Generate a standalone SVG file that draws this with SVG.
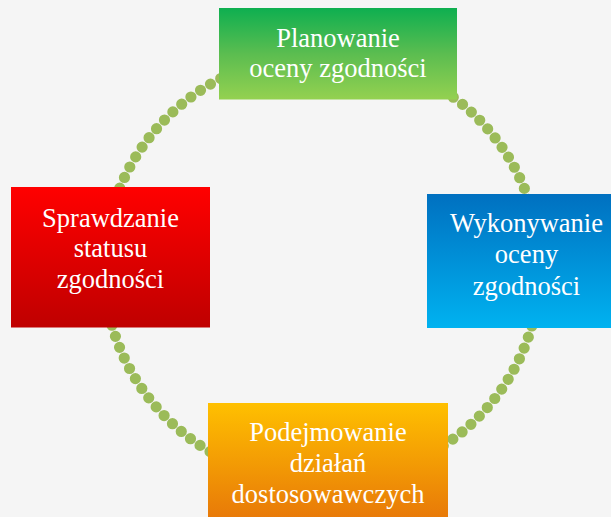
<svg xmlns="http://www.w3.org/2000/svg" width="611" height="517" viewBox="0 0 611 517">
  <defs>
    <linearGradient id="gGreen" x1="0" y1="0" x2="0" y2="1">
      <stop offset="0" stop-color="#0EAF50"/>
      <stop offset="0.5" stop-color="#5BBD50"/>
      <stop offset="1" stop-color="#94D150"/>
    </linearGradient>
    <linearGradient id="gRed" x1="0" y1="0" x2="0" y2="1">
      <stop offset="0" stop-color="#FF0000"/>
      <stop offset="1" stop-color="#BF0000"/>
    </linearGradient>
    <linearGradient id="gBlue" x1="0" y1="0" x2="0" y2="1">
      <stop offset="0" stop-color="#0070C0"/>
      <stop offset="1" stop-color="#00B2F0"/>
    </linearGradient>
    <linearGradient id="gOrange" x1="0" y1="0" x2="0" y2="1">
      <stop offset="0" stop-color="#FFC000"/>
      <stop offset="1" stop-color="#E36A0A"/>
    </linearGradient>
  </defs>
  <style>
    .lbl { font-family: "Liberation Serif", "Times New Roman", serif; font-size: 26.5px; fill: #FFFFFF; text-anchor: middle; }
    .ring { fill: none; stroke: #9BBB59; stroke-width: 11.2; stroke-linecap: round; stroke-dasharray: 0 11.7; }
  </style>
  <rect x="0" y="0" width="611" height="517" fill="#F5F5F5"/>
  <g id="connectors">
    <path class="ring" d="M 104,268 A 218 214 0 1 1 540,268 A 218 214 0 1 1 104,268 Z"/>
  </g>
  <g id="planowanie">
    <rect x="219" y="8" width="238" height="91.5" fill="url(#gGreen)"/>
    <text class="lbl" x="338" y="46.5">Planowanie</text>
    <text class="lbl" x="338" y="77">oceny zgodności</text>
  </g>
  <g id="wykonywanie">
    <rect x="427" y="194" width="199" height="134" fill="url(#gBlue)"/>
    <text class="lbl" x="526.5" y="231.5">Wykonywanie</text>
    <text class="lbl" x="526.5" y="263">oceny</text>
    <text class="lbl" x="526.5" y="294.5">zgodności</text>
  </g>
  <g id="podejmowanie">
    <rect x="208" y="403" width="240" height="140" fill="url(#gOrange)"/>
    <text class="lbl" x="328" y="441">Podejmowanie</text>
    <text class="lbl" x="328" y="472">działań</text>
    <text class="lbl" x="328" y="502.5">dostosowawczych</text>
  </g>
  <g id="sprawdzanie">
    <rect x="11" y="187" width="199" height="140.5" fill="url(#gRed)"/>
    <text class="lbl" x="110.5" y="226.5">Sprawdzanie</text>
    <text class="lbl" x="110.5" y="257">statusu</text>
    <text class="lbl" x="110.5" y="287.5">zgodności</text>
  </g>
</svg>
